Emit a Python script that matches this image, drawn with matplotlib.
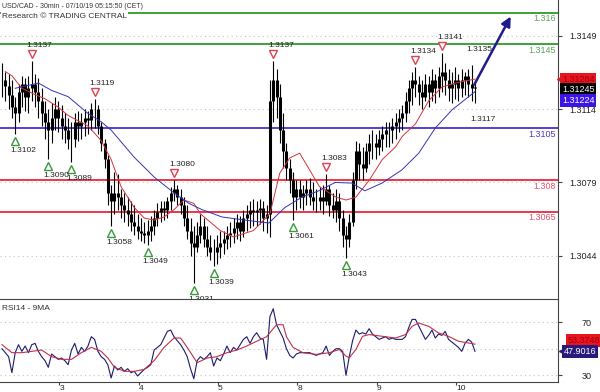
import matplotlib
matplotlib.use("Agg")
import matplotlib.pyplot as plt
import matplotlib.transforms as mtransforms
import numpy as np

plt.rcParams['font.family'] = ['Liberation Sans', 'DejaVu Sans']

# USD/CAD, one bar per hour, prices in pips above 1.3000
hi_pips = [136, 132, 131, 128, 120, 126, 130, 129, 130, 137,
           131, 129, 124, 118, 114, 117, 120, 118, 116, 112,
           110, 108, 112, 113, 112, 114, 113, 117, 119, 116,
           108, 100, 92, 78, 84, 83, 76, 74, 72, 70,
           68, 64, 62, 60, 61, 63, 66, 69, 70, 70,
           72, 77, 80, 78, 76, 72, 68, 62, 58, 60,
           64, 62, 58, 54, 52, 54, 56, 56, 58, 60,
           62, 64, 63, 66, 68, 70, 71, 70, 71, 70,
           68, 128, 137, 133, 126, 112, 98, 90, 84, 80,
           80, 78, 80, 81, 79, 76, 77, 78, 83, 78,
           74, 76, 74, 66, 58, 64, 84, 99, 98, 96,
           98, 102, 104, 102, 104, 106, 108, 108, 110, 112,
           114, 116, 122, 128, 132, 134, 130, 128, 131, 130,
           133, 131, 134, 141, 136, 133, 132, 134, 131, 133,
           132, 133, 135, 128]
lo_pips = [120, 118, 114, 110, 102, 108, 115, 113, 112, 118,
           115, 110, 106, 100, 90, 98, 104, 103, 100, 98,
           95, 89, 96, 99, 100, 101, 102, 104, 105, 102,
           94, 86, 68, 58, 64, 66, 62, 60, 58, 56,
           54, 52, 51, 50, 49, 51, 54, 58, 60, 61,
           62, 66, 70, 68, 64, 58, 52, 44, 31, 46,
           50, 48, 44, 42, 39, 40, 43, 45, 47, 48,
           50, 52, 51, 53, 56, 57, 58, 58, 59, 56,
           55, 53, 108, 110, 98, 86, 80, 74, 61, 66,
           67, 66, 68, 68, 66, 65, 66, 64, 68, 63,
           62, 60, 56, 48, 43, 48, 58, 76, 80, 80,
           84, 88, 90, 90, 92, 94, 96, 96, 98, 100,
           103, 104, 108, 112, 116, 120, 116, 114, 118, 115,
           118, 117, 120, 122, 121, 118, 117, 119, 118, 120,
           121, 120, 118, 117]
cl_pips = [128, 125, 121, 115, 112, 122, 126, 120, 124, 126,
           122, 118, 112, 108, 104, 110, 114, 110, 106, 104,
           100, 100, 108, 106, 108, 110, 109, 114, 114, 106,
           98, 90, 74, 70, 74, 72, 68, 66, 64, 60,
           58, 56, 55, 54, 56, 58, 62, 65, 67, 66,
           70, 74, 76, 72, 68, 62, 56, 50, 48, 54,
           58, 52, 48, 46, 46, 48, 50, 52, 54, 55,
           57, 60, 56, 62, 64, 66, 65, 66, 67, 62,
           64, 118, 128, 120, 104, 94, 86, 80, 72, 76,
           72, 74, 76, 72, 70, 70, 72, 70, 76, 68,
           66, 70, 62, 54, 52, 60, 80, 94, 88, 86,
           94, 98, 98, 96, 100, 102, 104, 104, 106, 108,
           110, 112, 118, 124, 128, 126, 122, 120, 126, 122,
           128, 124, 130, 132, 128, 124, 126, 128, 124, 128,
           130, 126, 124, 124.5]

# swing markers (bar index)
swing_hi = [9, 28, 52, 82, 98, 125, 133]
swing_lo = [4, 14, 21, 33, 44, 58, 64, 88, 104]
open_hi = [142]
open_lo = [143]

# moving averages on price (hour, pips)
ma_red_t = [1, 3, 6, 10, 13, 17, 20, 26, 30, 33, 36, 40, 43, 46, 49, 52, 55, 58, 60, 66,
            70, 76, 81, 84, 87, 90, 93, 96, 101, 104, 107, 111, 115, 119, 121, 125, 129, 133, 137, 143]
ma_red = [132, 130, 124, 121, 119, 115, 111, 106, 99, 90, 77, 67, 62, 61, 62.5, 66, 70.6, 69, 64, 56,
          53, 56, 64, 83.5, 90.7, 93, 85, 77, 72, 70.6, 72, 80, 90, 96, 101, 107, 118, 124.6, 126.5, 128.4]
ma_blue_t = [4, 11, 15, 20, 26, 30, 33, 40, 46, 52, 56.5, 60.5, 66.5, 73.5, 80.7, 85.5, 90.7, 95.8,
             100.7, 105.8, 109.7, 114.9, 120.9, 126, 131, 136, 143]
ma_blue = [124, 126.5, 123, 120, 112, 108, 104, 91, 81.6, 74, 69, 66, 62.5, 61, 59.6, 67, 72, 75,
           79, 78.7, 75, 78.7, 85, 93, 105, 113.6, 122.4]

# support / resistance levels
lvl_green = [1.316, 1.3145]
lvl_blue = [1.3105]
lvl_red = [1.308, 1.3065]
lvl_labels = ['1.316', '1.3145', '1.3105', '1.308', '1.3065']

price_ticks = [1.3149, 1.3114, 1.3079, 1.3044]
last_close, last_red, last_blue = 1.31245, 1.31284, 1.31224

# RSI14 hourly and its 9MA
rsi = [50, 47, 44, 32, 47, 53, 48, 52, 47, 53,
       54, 48, 44, 41, 36, 46, 44, 42, 43, 41,
       38, 49, 54, 46, 51, 48, 52, 59, 57, 48,
       44, 42, 38, 28, 37, 34, 36, 33, 35, 32,
       33, 29.5, 32, 34.5, 36, 38, 49, 51, 53, 58,
       63, 64, 59, 56, 53, 49, 44, 35, 27.5, 41,
       44, 42, 44, 47, 37, 43, 41, 46, 52, 47,
       51, 49, 53, 57, 59, 54, 59, 62, 58, 57,
       42, 74, 80, 68, 63, 58, 50, 45, 43, 46,
       47, 47, 47, 47, 46, 45, 46, 47, 52, 45,
       48, 50, 50, 48, 30, 44, 56, 64, 61, 62,
       61, 65, 61, 59, 57, 58, 59, 57, 58, 57,
       57, 57, 59, 66, 72, 72, 67, 62, 57, 60,
       64, 58, 61, 60, 63, 57, 55, 53, 51, 48,
       54, 57, 55, 48]
rsi_ma_t = [0, 3, 6, 9, 12, 15, 18, 21, 24, 27, 30, 32, 34, 37, 40, 43, 46, 49, 52, 54,
            56, 59, 62, 65, 68, 71, 74, 77, 80, 83, 85, 86, 88, 91, 95, 99, 102, 104, 105, 107,
            109, 111, 115, 119, 122, 124, 126, 129, 132, 135, 138, 141, 143]
rsi_ma = [53, 47, 47, 48, 49, 44, 42, 42, 47, 51, 48, 43, 36, 33, 33, 34.5, 41, 51, 58, 58,
          51, 39.5, 43, 44, 47, 49, 52, 55.6, 59, 68, 68, 59, 51, 47, 45.7, 47, 49.4, 44.4, 43.2, 49.4,
          59.3, 60.6, 59.3, 58, 60.6, 66.8, 69.3, 66.8, 61.8, 59.3, 55.6, 54.3, 53.4]
rsi_last, rsi_ma_last = 47.9016, 53.3748

day_labels = ['3', '4', '5', '8', '9', '10']
day_start = [17.3, 41.3, 65.3, 89.3, 113.3, 137.3]

hi = 1.3 + np.array(hi_pips) / 1e4
lo = 1.3 + np.array(lo_pips) / 1e4
cl = 1.3 + np.array(cl_pips) / 1e4
op = np.r_[cl[0], cl[:-1]]
x = np.arange(len(hi))

fig = plt.figure(figsize=(6, 3.92), dpi=100)
ax = fig.add_axes([0, 1 - 299 / 392, 558 / 600, 299 / 392])
ax2 = fig.add_axes([0, 10 / 392, 558 / 600, 83 / 392], sharex=ax)

frame = '#444444'
xmax = 168.1

# ---- price panel
ax.set_xlim(-0.6, xmax)
ax.set_ylim(1.30233, 1.31662)
ax.set_yticks(price_ticks)
ax.set_yticklabels(['%.4f' % v for v in price_ticks])
ax.yaxis.tick_right()
ax.tick_params(axis='y', length=3, width=0.8, colors=frame, labelsize=6.5, pad=5,
               labelcolor='#222222')
ax.tick_params(axis='x', length=0, labelbottom=False)
ax.grid(axis='y', linestyle=(0, (1, 3)), color='#c4c4c4', lw=0.8)
for s in ['top', 'left', 'bottom']:
    ax.spines[s].set_visible(False)
ax.spines['right'].set_color(frame)

lv_col = {'g': '#2f9a2f', 'b': '#4a2fd0', 'r': '#e8283a'}
lb_col = {'g': '#5da35d', 'b': '#4b3ab8', 'r': '#e0506a'}
levels = [(v, 'g') for v in lvl_green] + [(v, 'b') for v in lvl_blue] + [(v, 'r') for v in lvl_red]
blend = mtransforms.blended_transform_factory(ax.transAxes, ax.transData)
for (v, c), t in zip(levels, lvl_labels):
    ax.axhline(v, color=lv_col[c], lw=1.3, zorder=2)
    ax.annotate(t, (0.997, v), xycoords=blend, xytext=(0, -1.5), textcoords='offset pixels',
                ha='right', va='top', fontsize=6.5, color=lb_col[c])

ax.vlines(x, lo, hi, color='black', lw=0.8, zorder=3)
ax.vlines(x, np.minimum(op, cl), np.maximum(op, cl), color='black', lw=2.2, zorder=3)

ax.plot(ma_red_t, 1.3 + np.array(ma_red) / 1e4, color='#d0343c', lw=0.7, zorder=4)
ax.plot(ma_blue_t, 1.3 + np.array(ma_blue) / 1e4, color='#3535b5', lw=0.7, zorder=4)

up = mtransforms.offset_copy(ax.transData, fig=fig, x=0, y=7, units='dots')
dn = mtransforms.offset_copy(ax.transData, fig=fig, x=0, y=-7, units='dots')
for i in swing_hi:
    ax.plot(i, hi[i], marker='v', ms=6, mfc='white', mec='#e04050', mew=1, transform=up, zorder=5)
for i in swing_lo:
    ax.plot(i, lo[i], marker='^', ms=6, mfc='white', mec='#3a9a3a', mew=1, transform=dn, zorder=5)
for i in swing_hi + open_hi:
    ax.annotate('%.4f' % hi[i], (i, hi[i]), xytext=(-5, 12), textcoords='offset pixels',
                ha='left', va='bottom', fontsize=6, color='#222222', zorder=6)
for i in swing_lo + open_lo:
    ax.annotate('%.4f' % lo[i], (i, lo[i]), xytext=(-5, -13), textcoords='offset pixels',
                ha='left', va='top', fontsize=6, color='#222222', zorder=6, annotation_clip=False)

# projection arrow
ax.annotate('', xy=(154.2, 1.31595), xytext=(142.4, 1.31246),
            arrowprops=dict(arrowstyle='-|>', color='#211c8c', lw=1.8, mutation_scale=14))

# last value boxes
boxes = [(last_red, 0, '#e8141e', '#a00010', True),
         (last_close, -2.5, 'black', 'white', False),
         (last_blue, -9, '#3c14e6', 'white', False)]
for v, dy, bg, fg, arrow in boxes:
    ax.annotate('%.5f' % v, (1.0, v), xycoords=blend, xytext=(4, dy), textcoords='offset pixels',
                ha='left', va='center', fontsize=6.5, color=fg, annotation_clip=False,
                bbox=dict(boxstyle='square,pad=0.2', fc=bg, ec='none'), zorder=7)
    if arrow:
        ax.plot([1.004], [v], marker='<', ms=5, color=bg, transform=blend, clip_on=False, zorder=7)

# header, on white so the top level line stops at the text
fig.text(2 / 600, 1 - 7 / 392, 'USD/CAD - 30min - 07/10/19 05:15:50 (CET)', fontsize=5,
         color='#333333', va='center', zorder=10,
         bbox=dict(boxstyle='square,pad=0.15', fc='white', ec='none'))
fig.text(2 / 600, 1 - 17 / 392, 'Research \u00a9 TRADING CENTRAL', fontsize=6,
         color='#333333', va='center', zorder=10,
         bbox=dict(boxstyle='square,pad=0.15', fc='white', ec='none'))

# ---- RSI panel
ax2.set_ylim(25, 87.3)
ax2.plot(x, rsi, color='#1c1c6c', lw=0.8)
ax2.plot(rsi_ma_t, rsi_ma, color='#c0304a', lw=0.8)
for v in [70, 50, 30]:
    ax2.axhline(v, linestyle=(0, (1, 3)), color='#c4c4c4', lw=0.8, zorder=0)
ax2.set_yticks([70, 30])
ax2.yaxis.tick_right()
ax2.tick_params(axis='y', length=3, width=0.8, colors=frame, labelsize=6.5, pad=14,
                labelcolor='#222222')
ax2.set_xticks(day_start)
ax2.set_xticklabels(day_labels, ha='left')
ax2.tick_params(axis='x', length=2, width=0.8, colors=frame, labelsize=6, pad=0,
                labelcolor='#222222')
ax2.spines['left'].set_visible(False)
for s in ['top', 'right', 'bottom']:
    ax2.spines[s].set_color(frame)
ax2.text(0.004, 0.93, 'RSI14 - 9MA', transform=ax2.transAxes, fontsize=6, color='#333333',
         va='top')

blend2 = mtransforms.blended_transform_factory(ax2.transAxes, ax2.transData)
ax2.annotate('%.4f' % rsi_ma_last, (1.0, rsi_ma_last), xycoords=blend2, xytext=(10, 4),
             textcoords='offset pixels', ha='left', va='center', fontsize=6.5, color='#a00010',
             annotation_clip=False, bbox=dict(boxstyle='square,pad=0.2', fc='#e8141e', ec='none'))
ax2.annotate('%.4f' % rsi_last, (1.0, rsi_last), xycoords=blend2, xytext=(6, 0),
             textcoords='offset pixels', ha='left', va='center', fontsize=6.5, color='white',
             annotation_clip=False, bbox=dict(boxstyle='square,pad=0.2', fc='#2a1a7a', ec='none'))
ax2.plot([1.008], [rsi_last], marker='<', ms=5, color='#2a1a7a', transform=blend2, clip_on=False)

fig.savefig('out.png', dpi=100)
